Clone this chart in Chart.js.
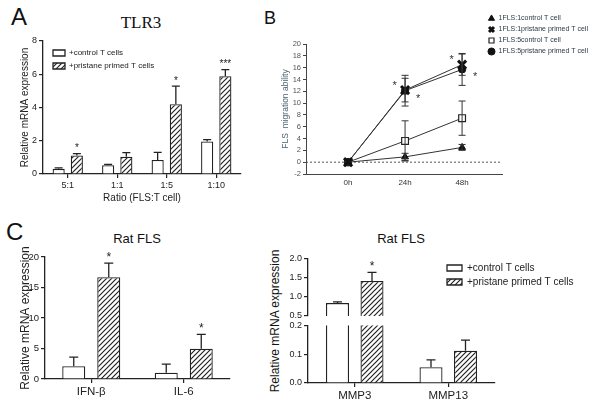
<!DOCTYPE html>
<html>
<head>
<meta charset="utf-8">
<script src="https://cdn.jsdelivr.net/npm/chart.js@4.4.1/dist/chart.umd.min.js"></script>
<style>
  body { margin: 0; background: #fff; }
  #wrap { position: relative; width: 600px; height: 407px; overflow: hidden; background: #fff;
          font-family: "Liberation Sans", Arial, sans-serif; color: #111; }
  #wrap canvas, .lbl { position: absolute; }
  .lbl { line-height: 1; white-space: nowrap; }
</style>
</head>
<body>
<div id="wrap">
  <div class="lbl" style="left:11px;top:5px;font-size:24px">A</div>
  <div class="lbl" style="left:141px;top:14px;font-size:17px;font-family:'Liberation Serif',serif;transform:translateX(-50%)">TLR3</div>
  <div class="lbl" style="left:264px;top:9px;font-size:18px">B</div>
  <div class="lbl" style="left:6px;top:220px;font-size:24px">C</div>
  <div class="lbl" style="left:137px;top:232px;font-size:13px;transform:translateX(-50%)">Rat FLS</div>
  <div class="lbl" style="left:401px;top:232px;font-size:13px;transform:translateX(-50%)">Rat FLS</div>
  <div class="lbl" style="left:275px;top:321px;font-size:12px;transform:translate(-50%,-50%) rotate(-90deg)">Relative mRNA expression</div>
  <canvas id="chartA" width="255" height="210" style="left:0;top:0"></canvas>
  <canvas id="chartB" width="345" height="200" style="left:255px;top:0"></canvas>
  <canvas id="chartC" width="255" height="192" style="left:0;top:215px"></canvas>
  <canvas id="chartDtop" width="340" height="84" style="left:260px;top:240px"></canvas>
  <canvas id="chartDbot" width="250" height="89" style="left:260px;top:318px"></canvas>
</div>
<script>
// panel A - TLR3
const ratioLabels = ['5:1', '1:1', '1:5', '1:10'];
const tlr3Control = [0.31, 0.53, 0.84, 1.96];
const tlr3ControlErr = [0.06, 0.05, 0.46, 0.11];
const tlr3Primed = [1.12, 1.04, 4.2, 5.88];
const tlr3PrimedErr = [0.11, 0.24, 1.08, 0.4];
const tlr3Stars = ['*', '', '*', '***'];

// panel B - migration
const timeHours = [0, 24, 48];
const ctl1 = [0, 0.9, 2.5];
const ctl1Err = [0, 0.6, 0.5];
const pri1 = [0, 12.2, 16.5];
const pri1Err = [0, 2.0, 1.8];
const ctl5 = [0, 3.6, 7.45];
const ctl5Err = [0, 3.4, 2.9];
const pri5 = [0, 12.1, 15.7];
const pri5Err = [0, 2.6, 2.7];
const migNames = ['1FLS:1control T cell', '1FLS:1pristane primed T cell', '1FLS:5control T cell', '1FLS:5pristane primed T cell'];
const migStarSeries = [1, 3, 1, 3];
const migStarIndex = [1, 1, 2, 2];
const migStarSide = ['left', 'right', 'left', 'right'];

// panel C - cytokines
const cytoLabels = ['IFN-β', 'IL-6'];
const cytoControl = [2.1, 1.03];
const cytoControlErr = [1.5, 1.42];
const cytoPrimed = [16.7, 4.95];
const cytoPrimedErr = [2.3, 2.35];
const cytoStars = ['*', '*'];

// panel D - MMPs (broken axis)
const mmpLabels = ['MMP3', 'MMP13'];
const mmpControl = [0.84, 0.055];
const mmpControlErr = [0.03, 0.025];
const mmpPrimed = [1.42, 0.112];
const mmpPrimedErr = [0.23, 0.037];
const mmpStars = ['*', ''];

const groupNames = ['+control T cells', '+pristane primed T cells'];

Chart.defaults.font.family = '"Liberation Sans", Arial, sans-serif';
Chart.defaults.color = '#222';

function hatch(id, size, lw) {
  const c = document.createElement('canvas');
  c.width = c.height = size;
  const g = c.getContext('2d');
  g.fillStyle = '#fff';
  g.fillRect(0, 0, size, size);
  g.strokeStyle = '#222';
  g.lineWidth = lw;
  g.beginPath();
  g.moveTo(0, size); g.lineTo(size, 0);
  g.moveTo(-size / 2, size / 2); g.lineTo(size / 2, -size / 2);
  g.moveTo(size / 2, size * 1.5); g.lineTo(size * 1.5, size / 2);
  g.stroke();
  return document.getElementById(id).getContext('2d').createPattern(c, 'repeat');
}

// move a 'chartArea' legend to a fixed spot on the canvas
const legendAt = {
  id: 'legendAt',
  afterLayout(chart, args, opts) {
    const lg = chart.legend;
    if (!lg || opts.x === undefined) return;
    lg.left = opts.x; lg.top = opts.y;
    lg.right = opts.x + lg.width; lg.bottom = opts.y + lg.height;
  }
};

const errorBars = {
  id: 'errorBars',
  afterDatasetsDraw(chart, args, opts) {
    const ctx = chart.ctx;
    const y = chart.scales.y;
    const cap = opts.cap || 4;
    ctx.save();
    ctx.strokeStyle = opts.color || '#222';
    ctx.lineWidth = opts.width || 1.3;
    chart.data.datasets.forEach((ds, di) => {
      if (!ds.errors) return;
      chart.getDatasetMeta(di).data.forEach((pt, i) => {
        const v = ds.data[i], e = ds.errors[i];
        if (v < y.min || v > y.max) return;
        const top = y.getPixelForValue(v + e);
        const bot = opts.both ? y.getPixelForValue(v - e) : pt.y;
        if (e > 0) {
          ctx.beginPath();
          ctx.moveTo(pt.x, bot); ctx.lineTo(pt.x, top);
          ctx.moveTo(pt.x - cap, top); ctx.lineTo(pt.x + cap, top);
          if (opts.both) { ctx.moveTo(pt.x - cap, bot); ctx.lineTo(pt.x + cap, bot); }
          ctx.stroke();
        }
        if (ds.stars && ds.stars[i]) {
          ctx.fillStyle = '#222';
          ctx.font = (opts.starSize || 12) + 'px "Liberation Sans", Arial';
          ctx.textAlign = 'center';
          ctx.textBaseline = 'alphabetic';
          ctx.fillText(ds.stars[i], pt.x, top - 2.5);
        }
      });
    });
    ctx.restore();
  }
};

const zeroLine = {
  id: 'zeroLine',
  beforeDatasetsDraw(chart) {
    const {ctx, chartArea: a, scales: {y}} = chart;
    const yy = y.getPixelForValue(0);
    ctx.save();
    ctx.setLineDash([2, 2]);
    ctx.strokeStyle = '#555';
    ctx.lineWidth = 1;
    ctx.beginPath();
    ctx.moveTo(a.left, yy); ctx.lineTo(a.right, yy);
    ctx.stroke();
    ctx.restore();
  }
};

const sideStars = {
  id: 'sideStars',
  afterDatasetsDraw(chart) {
    const ctx = chart.ctx;
    ctx.save();
    ctx.font = '11px "Liberation Sans", Arial';
    ctx.fillStyle = '#333';
    ctx.textAlign = 'center';
    migStarSeries.forEach((s, k) => {
      const pt = chart.getDatasetMeta(s).data[migStarIndex[k]];
      const left = migStarSide[k] === 'left';
      ctx.fillText('*', pt.x + (left ? -10.5 : 13), pt.y + (left ? -1.5 : 11));
    });
    ctx.restore();
  }
};

function yAxis(min, max, step, tickSize, width, title, titleSize, fmt) {
  return {
    min: min, max: max,
    ticks: {stepSize: step, autoSkip: false, font: {size: tickSize}, padding: 2, color: '#222', callback: fmt || (v => v)},
    grid: {drawOnChartArea: false, tickLength: 4, color: '#222', lineWidth: 1.2},
    border: {color: '#222', width: 1.3},
    title: {display: !!title, text: title, font: {size: titleSize}, padding: {top: 4, bottom: 0}, color: '#222'},
    afterFit: s => { s.width = width; }
  };
}

function xAxis(tickSize, height, title, titleSize) {
  return {
    grid: {drawOnChartArea: false, offset: false, tickLength: 4, color: '#222', lineWidth: 1.2},
    border: {color: '#222', width: 1.3},
    ticks: {font: {size: tickSize}, padding: 2, color: '#222'},
    title: {display: !!title, text: title, font: {size: titleSize}, padding: {top: 0, bottom: 6}, color: '#222'},
    afterFit: s => { s.height = height; }
  };
}

function barSets(ctrl, ctrlErr, primed, primedErr, stars, pattern, cp, bp) {
  const base = {borderColor: '#222', borderWidth: 1.3, categoryPercentage: cp, barPercentage: bp};
  return [
    Object.assign({label: groupNames[0], data: ctrl, errors: ctrlErr, backgroundColor: '#fff'}, base),
    Object.assign({label: groupNames[1], data: primed, errors: primedErr, stars: stars, backgroundColor: pattern}, base)
  ];
}

function legendOpts(font, bw, bh, pad) {
  return {position: 'chartArea', align: 'start',
          labels: {boxWidth: bw, boxHeight: bh, padding: pad, font: {size: font}, color: '#222'}};
}

// A
new Chart(document.getElementById('chartA'), {
  type: 'bar',
  data: {labels: ratioLabels,
         datasets: barSets(tlr3Control, tlr3ControlErr, tlr3Primed, tlr3PrimedErr, tlr3Stars, hatch('chartA', 5, 1.2), 0.735, 0.667)},
  options: {
    responsive: false, animation: false, events: [],
    layout: {padding: {left: 15, top: 41, right: 14, bottom: 0}},
    scales: {
      x: xAxis(9, 36, 'Ratio (FLS:T cell)', 10),
      y: yAxis(0, 8, 2, 9, 28, 'Relative mRNA expression', 10)
    },
    plugins: {
      legend: legendOpts(8, 12, 6, 5),
      legendAt: {x: 48, y: 44},
      errorBars: {cap: 4, starSize: 10},
      tooltip: {enabled: false}
    }
  },
  plugins: [legendAt, errorBars]
});

// B
const migMarks = [
  {pointStyle: 'triangle', pointRadius: 4, pointBackgroundColor: '#111', pointBorderColor: '#111', pointBorderWidth: 1},
  {pointStyle: 'crossRot', pointRadius: 5.7, pointBackgroundColor: '#111', pointBorderColor: '#111', pointBorderWidth: 3},
  {pointStyle: 'rect', pointRadius: 4.8, pointBackgroundColor: '#fff', pointBorderColor: '#222', pointBorderWidth: 1.2},
  {pointStyle: 'circle', pointRadius: 3.6, pointBackgroundColor: '#111', pointBorderColor: '#111', pointBorderWidth: 1}
];
const migData = [ctl1, pri1, ctl5, pri5];
const migErr = [ctl1Err, pri1Err, ctl5Err, pri5Err];
new Chart(document.getElementById('chartB'), {
  type: 'line',
  data: {
    labels: timeHours,
    datasets: migNames.map((n, i) => Object.assign({label: n, data: migData[i], errors: migErr[i],
      borderColor: '#333', borderWidth: 1, backgroundColor: '#111', tension: 0}, migMarks[i]))
  },
  options: {
    responsive: false, animation: false, events: [],
    layout: {padding: {left: 22, top: 44, right: 98, bottom: 0}},
    scales: {
      x: {type: 'linear', min: -17.7, max: 64.8,
          afterBuildTicks: s => { s.ticks = timeHours.map(v => ({value: v})); },
          ticks: {callback: v => v + 'h', font: {size: 8}, color: '#333', padding: 4},
          grid: {display: false, drawTicks: false}, border: {color: '#444', width: 1},
          afterFit: s => { s.height = 26; }},
      y: {min: -2, max: 20,
          ticks: {stepSize: 2, autoSkip: false, font: {size: 7.5}, color: '#555', padding: 2},
          grid: {drawOnChartArea: false, tickLength: 3, color: '#444'},
          border: {color: '#444', width: 1},
          title: {display: true, text: 'FLS  migration ability', font: {size: 8.5}, color: '#4d6670', padding: {top: 4, bottom: 0}},
          afterFit: s => { s.width = 29; }}
    },
    plugins: {
      legend: {position: 'chartArea', align: 'start',
               labels: {usePointStyle: true, boxHeight: 5, padding: 4, font: {size: 7}, color: '#2a3a42'}},
      legendAt: {x: 229, y: 11},
      errorBars: {both: true, cap: 3.5, width: 1, color: '#333'},
      tooltip: {enabled: false}
    }
  },
  plugins: [legendAt, zeroLine, errorBars, sideStars]
});

// C
new Chart(document.getElementById('chartC'), {
  type: 'bar',
  data: {labels: cytoLabels,
         datasets: barSets(cytoControl, cytoControlErr, cytoPrimed, cytoPrimedErr, cytoStars, hatch('chartC', 5, 1.2), 0.757, 0.657)},
  options: {
    responsive: false, animation: false, events: [],
    layout: {padding: {left: 14, top: 42, right: 25, bottom: 0}},
    scales: {
      x: xAxis(11.5, 28),
      y: yAxis(0, 20, 5, 9.5, 31, 'Relative mRNA expression', 12)
    },
    plugins: {legend: {display: false}, errorBars: {cap: 4.5, starSize: 12}, tooltip: {enabled: false}}
  },
  plugins: [errorBars]
});

// D, upper segment
const mmpPattern = hatch('chartDtop', 5, 1.2);
new Chart(document.getElementById('chartDtop'), {
  type: 'bar',
  data: {labels: mmpLabels,
         datasets: barSets(mmpControl, mmpControlErr, mmpPrimed, mmpPrimedErr, mmpStars, mmpPattern, 0.738, 0.667)},
  options: {
    responsive: false, animation: false, events: [],
    layout: {padding: {left: 18, top: 19, right: 105, bottom: 8}},
    scales: {
      x: {display: false},
      y: yAxis(0.5, 2.0, 0.5, 9, 30, '', 12, v => v.toFixed(1))
    },
    plugins: {
      legend: legendOpts(10, 15, 6, 4),
      legendAt: {x: 183, y: 19},
      errorBars: {cap: 4.5, starSize: 12},
      tooltip: {enabled: false}
    }
  },
  plugins: [legendAt, errorBars]
});

// D, lower segment
new Chart(document.getElementById('chartDbot'), {
  type: 'bar',
  data: {labels: mmpLabels,
         datasets: barSets(mmpControl, mmpControlErr, mmpPrimed, mmpPrimedErr, mmpStars, hatch('chartDbot', 5, 1.2), 0.738, 0.667)},
  options: {
    responsive: false, animation: false, events: [],
    layout: {padding: {left: 18, top: 7, right: 15, bottom: 0}},
    scales: {
      x: xAxis(11.5, 24),
      y: yAxis(0, 0.2, 0.1, 9, 30, '', 12, v => v.toFixed(1))
    },
    plugins: {legend: {display: false}, errorBars: {cap: 4.5, starSize: 12}, tooltip: {enabled: false}}
  },
  plugins: [errorBars]
});
</script>
</body>
</html>
